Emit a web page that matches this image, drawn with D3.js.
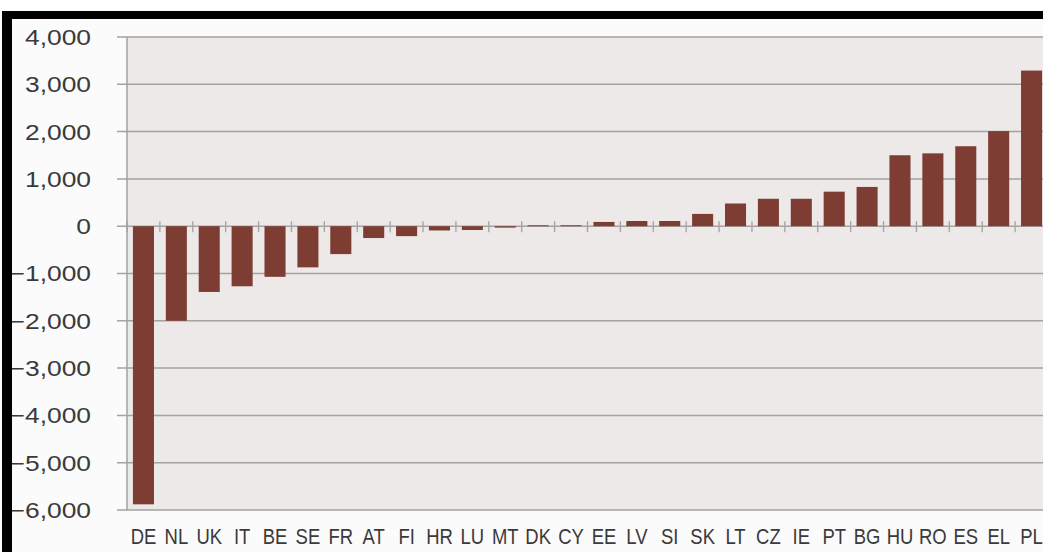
<!DOCTYPE html>
<html>
<head>
<meta charset="utf-8">
<script src="https://cdn.jsdelivr.net/npm/d3@7"></script>
<style>
  html, body { margin: 0; padding: 0; background: #ffffff; }
  svg { display: block; }
</style>
</head>
<body>
<svg id="chart" width="1043" height="552"></svg>
<script>
// Member-state codes, ordered from largest negative to largest positive
const categories = ["DE","NL","UK","IT","BE","SE","FR","AT","FI","HR","LU","MT","DK","CY",
                    "EE","LV","SI","SK","LT","CZ","IE","PT","BG","HU","RO","ES","EL","PL"];
const values = [-5880,-2000,-1390,-1270,-1070,-870,-590,-250,-210,-90,-80,-30,20,20,
                90,110,110,260,480,580,580,730,830,1500,1540,1690,2010,3290];
const yTicks = [4000,3000,2000,1000,0,-1000,-2000,-3000,-4000,-5000,-6000];

const svg = d3.select("#chart");
const W = 1043, H = 552;
const plot = { left: 127, right: 1048, top: 37, bottom: 510 };

const x = d3.scaleBand()
  .domain(categories)
  .range([plot.left, plot.right])
  .paddingInner(0.36)
  .paddingOuter(0.18);

const y = d3.scaleLinear()
  .domain([-6000, 4000])
  .range([plot.bottom, plot.top]);

const fmt = d3.format(",");

// chart background
svg.append("rect").attr("width", W).attr("height", H).attr("fill", "#fcfbfb");

// plot area
svg.append("rect")
  .attr("x", plot.left).attr("y", plot.top)
  .attr("width", W - plot.left).attr("height", plot.bottom - plot.top)
  .attr("fill", "#ece9e8");

// horizontal gridlines with outside tick marks
svg.append("g").selectAll("line").data(yTicks).join("line")
  .attr("x1", plot.left - 10).attr("x2", W)
  .attr("y1", d => y(d)).attr("y2", d => y(d))
  .attr("stroke", "#a5a2a1").attr("stroke-width", 1.5);

// value axis line
svg.append("line")
  .attr("x1", plot.left).attr("x2", plot.left)
  .attr("y1", plot.top).attr("y2", plot.bottom)
  .attr("stroke", "#a5a2a1").attr("stroke-width", 1.5);

// value axis labels
svg.append("g").selectAll("text").data(yTicks).join("text")
  .attr("transform", d => `translate(91,${y(d)}) scale(1.2,1)`)
  .attr("dy", "0.36em")
  .attr("text-anchor", "end")
  .attr("font-family", "Liberation Sans, Arial, sans-serif")
  .attr("font-size", 22)
  .attr("fill", "#3a3a3a")
  .text(d => fmt(d));

// category axis ticks crossing the zero line, at band boundaries
const step = x.step();
const boundaries = d3.range(categories.length + 1).map(i => plot.left + i * step);
svg.append("g").selectAll("line").data(boundaries).join("line")
  .attr("x1", d => d).attr("x2", d => d)
  .attr("y1", y(0) - 5).attr("y2", y(0) + 6)
  .attr("stroke", "#a5a2a1").attr("stroke-width", 1.3);

// bars
svg.append("g").selectAll("rect").data(values).join("rect")
  .attr("x", (d, i) => x(categories[i]))
  .attr("width", x.bandwidth())
  .attr("y", d => y(Math.max(0, d)))
  .attr("height", d => Math.abs(y(d) - y(0)))
  .attr("fill", "#7d3d33");

// category labels
svg.append("g").selectAll("text").data(categories).join("text")
  .attr("transform", d => `translate(${x(d) + x.bandwidth() / 2},544) scale(0.84,1)`)
  .attr("text-anchor", "middle")
  .attr("font-family", "Liberation Sans, Arial, sans-serif")
  .attr("font-size", 22)
  .attr("fill", "#3a3a3a")
  .text(d => d);

// black frame along top and left
svg.append("rect").attr("x", 2).attr("y", 11).attr("width", W).attr("height", 8).attr("fill", "#000");
svg.append("rect").attr("x", 2).attr("y", 11).attr("width", 10).attr("height", H).attr("fill", "#000");
svg.append("rect").attr("x", 0).attr("y", 0).attr("width", W).attr("height", 11).attr("fill", "#ffffff");
</script>
</body>
</html>
